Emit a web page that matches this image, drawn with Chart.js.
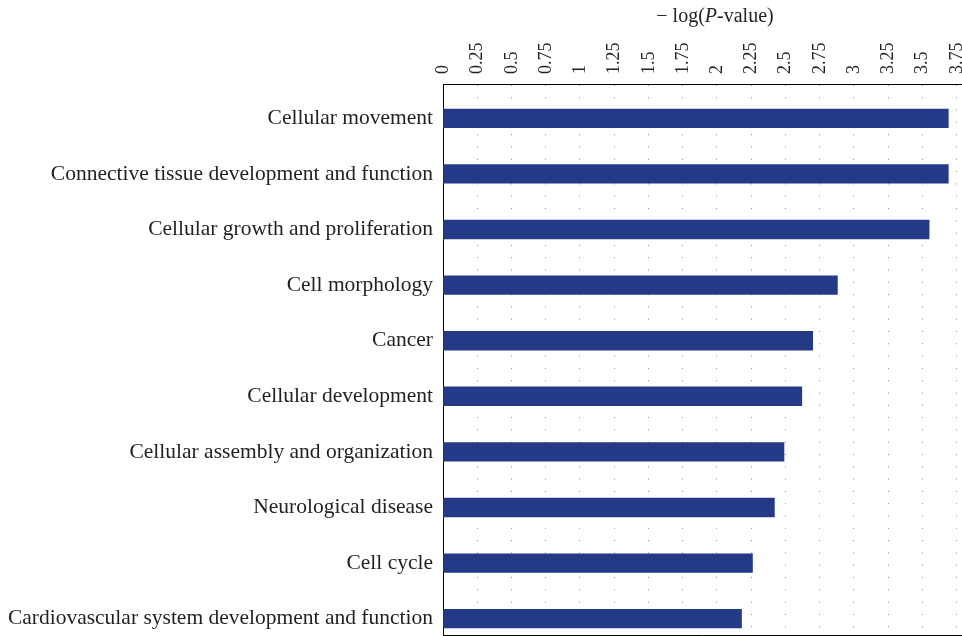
<!DOCTYPE html>
<html>
<head>
<meta charset="utf-8">
<title>Functional categories</title>
<script src="https://cdn.jsdelivr.net/npm/chart.js@4.4.0/dist/chart.umd.min.js"></script>
<style>
  html, body { margin: 0; padding: 0; background: #fff; overflow: hidden; }
  #wrap { width: 962px; height: 636px; position: relative; }
</style>
</head>
<body>
<div id="wrap"><canvas id="categoryChart"></canvas></div>
<script>
// Top functional categories, ranked by significance
const categories = [
  'Cellular movement',
  'Connective tissue development and function',
  'Cellular growth and proliferation',
  'Cell morphology',
  'Cancer',
  'Cellular development',
  'Cellular assembly and organization',
  'Neurological disease',
  'Cell cycle',
  'Cardiovascular system development and function'
];
const logP = [3.69, 3.69, 3.55, 2.88, 2.70, 2.62, 2.49, 2.42, 2.26, 2.18];
const xTicks = [0, 0.25, 0.5, 0.75, 1, 1.25, 1.5, 1.75, 2, 2.25, 2.5, 2.75, 3, 3.25, 3.5, 3.75];

const serif = '"Liberation Serif", "DejaVu Serif", serif';
const ink = '#231f20';

// axis title with an italic P, plus the closing bottom rule of the frame
const framePlugin = {
  id: 'frame',
  afterDraw(chart) {
    const { ctx, chartArea } = chart;
    ctx.save();
    ctx.strokeStyle = '#000';
    ctx.lineWidth = 1;
    ctx.beginPath();
    ctx.moveTo(chartArea.left, Math.round(chartArea.bottom) + 0.5);
    ctx.lineTo(chartArea.right, Math.round(chartArea.bottom) + 0.5);
    ctx.stroke();

    const parts = [
      { t: '\u2212 log(', f: '20px ' + serif },
      { t: 'P', f: 'italic 20px ' + serif },
      { t: '-value)', f: '20px ' + serif }
    ];
    let total = 0;
    parts.forEach(p => { ctx.font = p.f; p.w = ctx.measureText(p.t).width; total += p.w; });
    let x = chartArea.left + 272 - total / 2;
    ctx.fillStyle = ink;
    ctx.textBaseline = 'alphabetic';
    ctx.textAlign = 'left';
    parts.forEach(p => { ctx.font = p.f; ctx.fillText(p.t, x, 22); x += p.w; });
    ctx.restore();
  }
};

new Chart(document.getElementById('categoryChart'), {
  type: 'bar',
  data: {
    datasets: [{
      data: logP.map((v, i) => ({ x: v, y: i })),
      backgroundColor: '#253a86',
      borderWidth: 0,
      barThickness: 18.7
    }]
  },
  options: {
    indexAxis: 'y',
    responsive: true,
    maintainAspectRatio: false,
    animation: false,
    layout: { padding: { top: 0, right: 0, bottom: 1, left: 0 } },
    plugins: { legend: { display: false }, tooltip: { enabled: false } },
    scales: {
      x: {
        type: 'linear',
        position: 'top',
        min: 0,
        max: 3.79,
        afterBuildTicks: s => { s.ticks = xTicks.map(v => ({ value: v })); },
        afterFit: s => { s.height = 84; s.paddingLeft = 0; s.paddingRight = 0; },
        ticks: {
          autoSkip: false,
          minRotation: 90,
          maxRotation: 90,
          padding: 10,
          labelOffset: 22,
          color: ink,
          font: { family: serif, size: 18 },
          callback: v => String(v)
        },
        grid: { color: '#8a8a8a', lineWidth: 1, drawTicks: false },
        border: { display: true, color: '#000', width: 1, dash: [1, 11.3] }
      },
      y: {
        type: 'linear',
        reverse: true,
        offset: false,
        min: -0.618,
        max: 9.294,
        afterBuildTicks: s => { s.ticks = categories.map((c, i) => ({ value: i })); },
        afterFit: s => { s.width = 443; s.paddingTop = 0; s.paddingBottom = 0; },
        ticks: {
          autoSkip: false,
          padding: 10,
          color: ink,
          font: { family: serif, size: 21.5 },
          callback: v => categories[v]
        },
        grid: { display: false, drawTicks: false },
        border: { display: true, color: '#000', width: 1 }
      }
    }
  },
  plugins: [framePlugin]
});
</script>
</body>
</html>
